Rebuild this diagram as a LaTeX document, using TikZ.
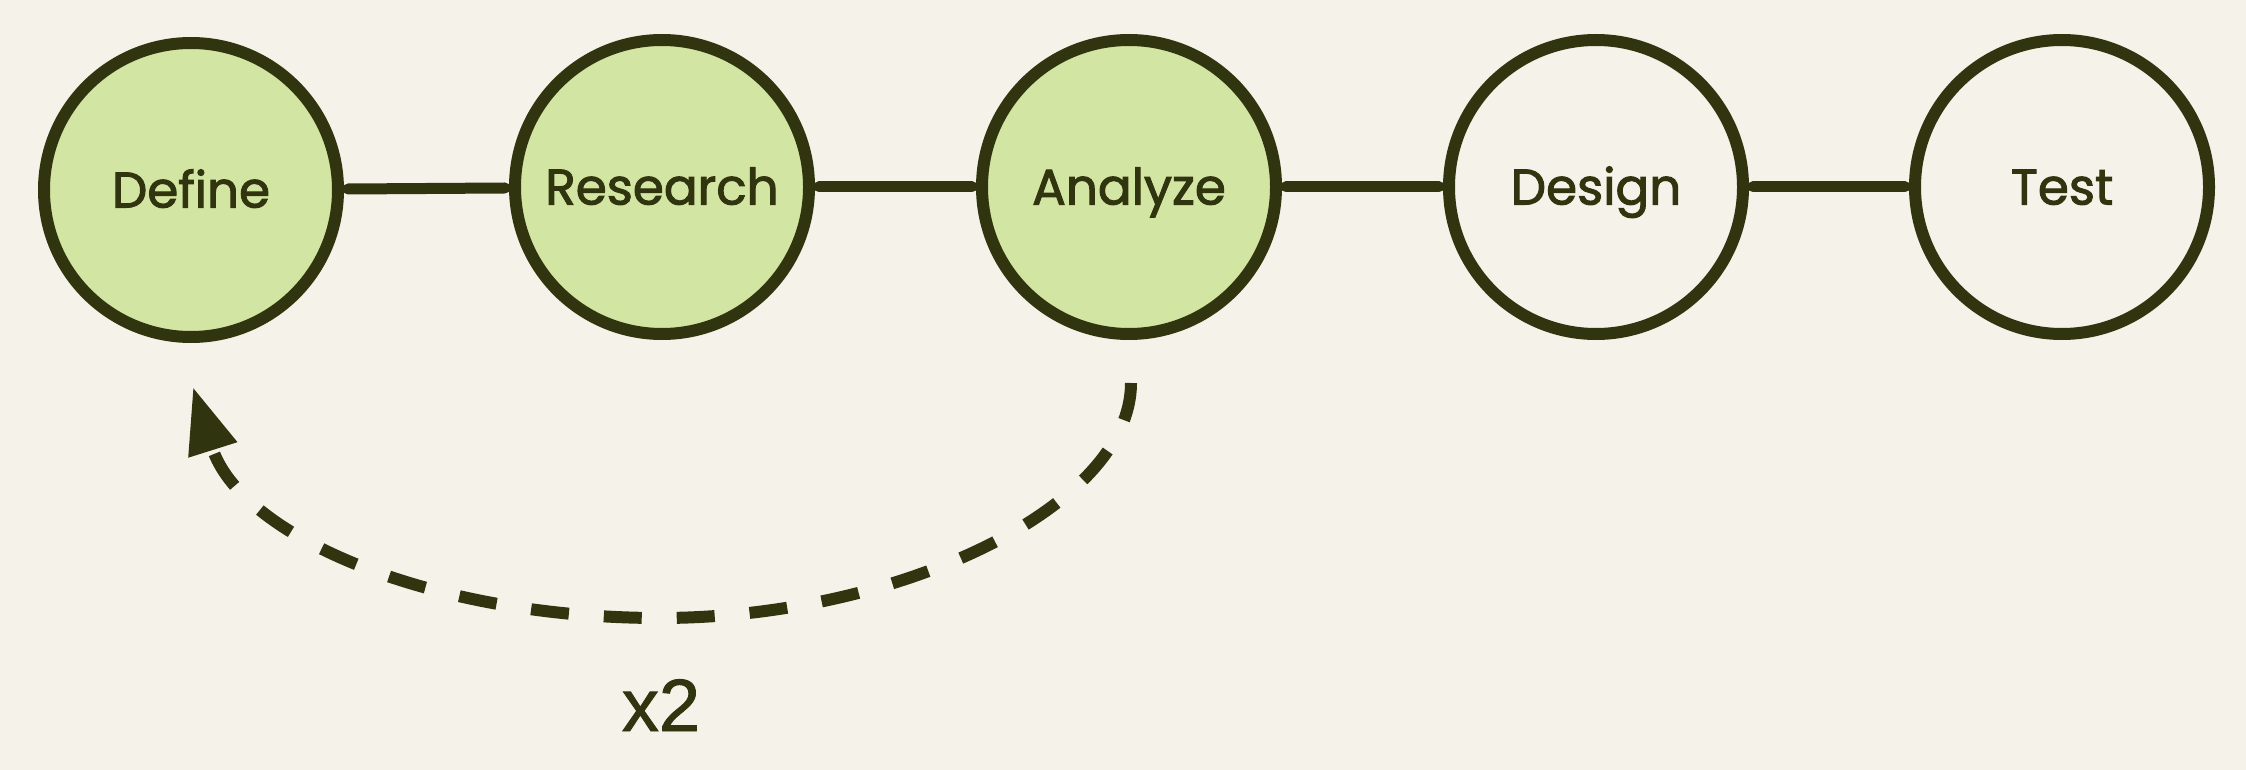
\documentclass[tikz,border=0pt]{standalone}
\usepackage{fontspec}
\setmainfont{Poppins}
\newfontfamily\popm{Poppins}[FakeBold=2]
\newfontfamily\xfont{Liberation Sans}[FakeBold=1.2]
\usetikzlibrary{arrows.meta,calc}
\definecolor{bgc}{HTML}{F4F2E9}
\definecolor{ink}{HTML}{31350F}
\definecolor{leaf}{HTML}{D3E5A3}
\begin{document}
\begin{tikzpicture}[x=1pt,y=-1pt,
  stage/.style={circle,draw=ink,line width=12pt,minimum size=294pt,inner sep=0pt,
    text=ink,font=\popm\fontsize{50pt}{54pt}\selectfont,text height=35pt,text depth=0pt},
  done/.style={stage,fill=leaf},
  todo/.style={stage,fill=bgc},
  link/.style={draw=ink,line width=11pt,line cap=round,shorten <=4pt,shorten >=4pt},
  loopback/.style={draw=ink,line width=12pt,dash pattern=on 38pt off 35pt,
    -{Triangle[length=66pt,width=48pt]}}]
\fill[bgc] (0,0) rectangle (2246,770);
\useasboundingbox (0,0) rectangle (2246,770);
\node[done] (def) at (191,190) {Define};
\node[done] (res) at (662,187) {Research};
\node[done] (an) at (1129,187) {Analyze};
\node[todo] (des) at (1596,187) {Design};
\node[todo] (tst) at (2062,187) {Test};
\draw[link] (def) -- (res);
\draw[link] (res) -- (an);
\draw[link] (an) -- (des);
\draw[link] (des) -- (tst);
\coordinate (s) at ($(an.south)+(2,43)$);
\coordinate (e) at ($(def.south)+(2,44)$);
\coordinate (m) at (660,618);
\draw[loopback] (s) .. controls ($(s)+(0,123)$) and (900,618) .. (m)
  .. controls (430,618) and ($(e)+(47,149)$) .. (e);
\node[text=ink,font=\xfont\fontsize{74pt}{80pt}\selectfont,anchor=base,inner sep=0pt] (lbl) at (661,731) {x2};
\end{tikzpicture}
\end{document}
